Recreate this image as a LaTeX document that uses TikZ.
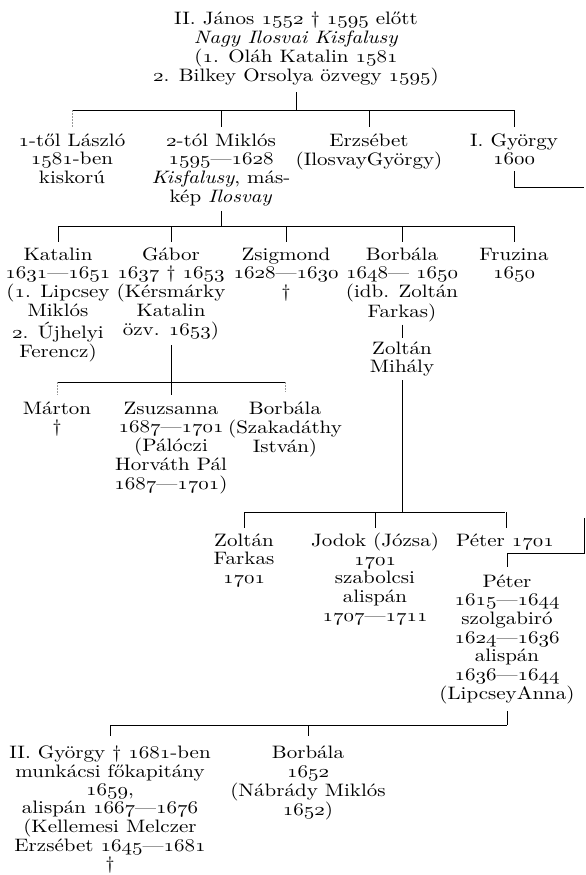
\documentclass[tikz,border=0pt]{standalone}
\usepackage{graphicx}
\newcommand\os[1]{{\usefont{OML}{cmm}{m}{it}#1}}
\newcommand\T[1]{\scalebox{2.1}[1.8]{\begin{tabular}{@{}c@{}}#1\end{tabular}}}
\tikzset{
  person/.style={inner sep=0pt, outer sep=0pt, anchor=north, font=\fontsize{10}{10.39}\selectfont},
  tight/.style={font=\fontsize{10}{10.17}\selectfont},
  conn/.style={line width=0.9pt},
  faint/.style={line width=0.7pt, black!40, dash pattern=on 1.5pt off 1.5pt},
}
\begin{document}
\begin{tikzpicture}[x=1pt,y=1pt]
\path[use as bounding box] (0,0) rectangle (586,-875);
% nodes
\node[person] (top) at (296,-11.5) {\T{II. János \os{1552} † \os{1595} előtt\\ \textit{Nagy Ilosvai Kisfalusy}\\ (\os{1}. Oláh Katalin \os{1581}\\ \os{2}. Bilkey Orsolya özvegy \os{1595})}};
\node[person] (laszlo) at (72,-133) {\T{\os{1}-től László\\ \os{1581}-ben\\ kiskorú}};
\node[person] (miklos) at (221,-133) {\T{\os{2}-tól Miklós\\ \os{1595}—\os{1628}\\ \textit{Kisfalusy}, más-\\ kép \textit{Ilosvay}}};
\node[person] (erzsebet) at (369,-133) {\T{Erzsébet\\ (IlosvayGyörgy)}};
\node[person] (gyorgy) at (514,-133) {\T{I. György\\ \os{1600}}};
\node[person] (katalin) at (58,-247) {\T{Katalin\\ \os{1631}—\os{1651}\\ (\os{1}. Lipcsey\\ Miklós\\ \os{2}. Újhelyi\\ Ferencz)}};
\node[person] (gabor) at (171,-247) {\T{Gábor\\ \os{1637} † \os{1653}\\ (Kérsmárky\\ Katalin\\ özv. \os{1653})}};
\node[person] (zsigmond) at (286,-247) {\T{Zsigmond\\ \os{1628}—\os{1630}\\ †}};
\node[person] (borbalaA) at (402,-247) {\T{Borbála\\ \os{1648}— \os{1650}\\ (idb. Zoltán\\ Farkas)}};
\node[person] (fruzina) at (514,-247) {\T{Fruzina\\ \os{1650}}};
\node[person] (zmihaly) at (402,-341) {\T{Zoltán\\ Mihály}};
\node[person] (marton) at (57,-401) {\T{Márton\\ †}};
\node[person] (zsuzsanna) at (171,-401) {\T{Zsuzsanna\\ \os{1687}—\os{1701}\\ (Pálóczi\\ Horváth Pál\\ \os{1687}—\os{1701})}};
\node[person] (borbalaB) at (285,-401) {\T{Borbála\\ (Szakadáthy\\ István)}};
\node[person] (zfarkas) at (244,-533) {\T{Zoltán\\ Farkas\\ \os{1701}}};
\node[person] (jodok) at (375,-533) {\T{Jodok (Józsa)\\ \os{1701}\\ szabolcsi\\ alispán\\ \os{1707}—\os{1711}}};
\node[person] (peterA) at (505,-533) {\T{Péter \os{1701}}};
\node[person] (peter) at (507,-574) {\T{Péter\\ \os{1615}—\os{1644}\\ szolgabiró\\ \os{1624}—\os{1636}\\ alispán\\ \os{1636}—\os{1644}\\ (LipcseyAnna)}};
\node[person,tight] (gyorgyB) at (110,-746) {\T{II. György † \os{1681}-ben\\ munkácsi főkapitány\\ \os{1659},\\ alispán \os{1667}—\os{1676}\\ (Kellemesi Melczer\\ Erzsébet \os{1645}—\os{1681}\\ †}};
\node[person,tight] (borbalaC) at (308,-746) {\T{Borbála\\ \os{1652}\\ (Nábrády Miklós\\ \os{1652})}};
% bus levels
\coordinate (b1) at (0,-110);
\coordinate (b2) at (0,-226);
\coordinate (b3) at (0,-382);
\coordinate (b4) at (0,-512);
\coordinate (b5) at (0,-725);
\coordinate (rA) at (584,-187);
\coordinate (rB) at (584,-518);
\coordinate (rC) at (584,-553);
% generation 1
\draw[conn] ([yshift=-5pt]top.south) -- (top.south |- b1);
\draw[conn] (laszlo.north |- b1) -- (gyorgy.north |- b1);
\draw[faint] (laszlo.north |- b1) -- ([yshift=6pt]laszlo.north);
\draw[conn] (miklos.north |- b1) -- ([yshift=6pt]miklos.north);
\draw[conn] (erzsebet.north |- b1) -- ([yshift=6pt]erzsebet.north);
\draw[conn] (gyorgy.north |- b1) -- ([yshift=6pt]gyorgy.north);
% György I -> right edge -> Péter
\draw[conn] ([yshift=-1pt]gyorgy.south) -- (gyorgy.south |- rA) -- (rA);
\draw[conn] (rB) -- (rC) -- (peter.north |- rC) -- ([yshift=7pt]peter.north);
% generation 2 (Miklós)
\draw[conn] ([yshift=-3pt]miklos.south) -- (miklos.south |- b2);
\draw[conn] (katalin.north |- b2) -- (fruzina.north |- b2);
\foreach \n in {katalin,gabor,zsigmond,borbalaA,fruzina}
  \draw[conn] (\n.north |- b2) -- ([yshift=5pt]\n.north);
% Borbála -> Zoltán Mihály
\draw[conn] ([yshift=-2pt]borbalaA.south) -- ([yshift=3pt]zmihaly.north);
% Gábor's children
\draw[conn] ([yshift=-4pt]gabor.south) -- (gabor.south |- b3);
\draw[conn] (marton.north |- b3) -- (borbalaB.north |- b3);
\draw[faint] (marton.north |- b3) -- ([yshift=6pt]marton.north);
\draw[conn] (zsuzsanna.north |- b3) -- ([yshift=6pt]zsuzsanna.north);
\draw[faint] (borbalaB.north |- b3) -- ([yshift=9pt]borbalaB.north);
% Zoltán Mihály's children
\draw[conn] ([yshift=-2pt]zmihaly.south) -- (zmihaly.south |- b4);
\draw[conn] (zfarkas.north |- b4) -- (peterA.north |- b4);
\draw[conn] (zfarkas.north |- b4) -- ([yshift=5pt]zfarkas.north);
\draw[conn] (jodok.north |- b4) -- ([yshift=5pt]jodok.north);
\draw[conn] ([xshift=1pt]peterA.north |- b4) -- ([xshift=1pt,yshift=5pt]peterA.north);
% Péter's children
\draw[conn] ([yshift=-6pt]peter.south) -- (peter.south |- b5);
\draw[conn] (gyorgyB.north |- b5) -- (peter.south |- b5);
\draw[conn] (gyorgyB.north |- b5) -- ([yshift=10pt]gyorgyB.north);
\draw[conn] (borbalaC.north |- b5) -- ([yshift=10pt]borbalaC.north);
\end{tikzpicture}
\end{document}
